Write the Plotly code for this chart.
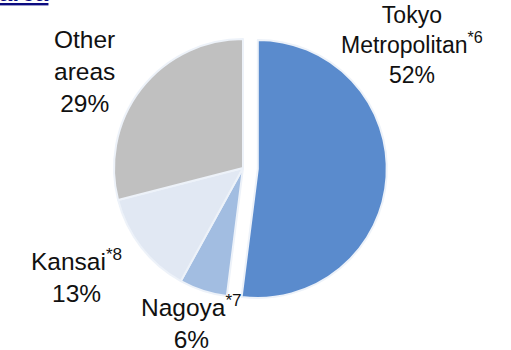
import plotly.graph_objects as go

# Share of sales by region (%)
regions = ["Tokyo<br>Metropolitan", "Nagoya", "Kansai", "Other<br>areas"]
footnotes = ["*6", "*7", "*8", ""]
shares = [52, 6, 13, 29]
colors = ["#5A8BCD", "#A2BDE1", "#E1E8F3", "#C0C0C0"]
pulls = [0.115, 0, 0, 0]

W, H = 511, 350

# label block centres in pixels (x, y) and font sizes
label_pos = [(412, 45), (191, 321), (76, 275), (84, 71)]
label_size = [23, 24.5, 24.5, 24.5]

fig = go.Figure(
    go.Pie(
        labels=[r.replace("<br>", " ") for r in regions],
        values=shares,
        sort=False,
        direction="clockwise",
        rotation=0,
        pull=pulls,
        marker=dict(colors=colors, line=dict(color="#EDF2F9", width=2)),
        textinfo="none",
        hoverinfo="label+percent",
        domain=dict(x=[99.2 / W, 386.8 / W], y=[1 - 311.8 / H, 1 - 24.2 / H]),
        showlegend=False,
    )
)

annotations = []
for name, note, val, (px, py), fs in zip(regions, footnotes, shares, label_pos, label_size):
    sup = f"<sup>{note}</sup>" if note else ""
    annotations.append(
        dict(
            text=f"{name}{sup}<br>{val}%",
            x=px / W,
            y=1 - py / H,
            xref="paper",
            yref="paper",
            xanchor="center",
            yanchor="middle",
            align="center",
            showarrow=False,
            font=dict(family="Liberation Sans, Arial", size=fs, color="#111111"),
        )
    )

# section heading above the chart
annotations.append(
    dict(
        text="<b><u>Sales by area</u></b>",
        x=51 / W,
        y=1,
        xref="paper",
        yref="paper",
        xanchor="right",
        yanchor="bottom",
        yshift=-8,
        showarrow=False,
        font=dict(family="Liberation Sans, Arial", size=24, color="#0B0B80"),
    )
)

fig.update_layout(
    width=W,
    height=H,
    margin=dict(l=0, r=0, t=0, b=0),
    paper_bgcolor="white",
    plot_bgcolor="white",
    annotations=annotations,
)

fig.write_html("out.html")
